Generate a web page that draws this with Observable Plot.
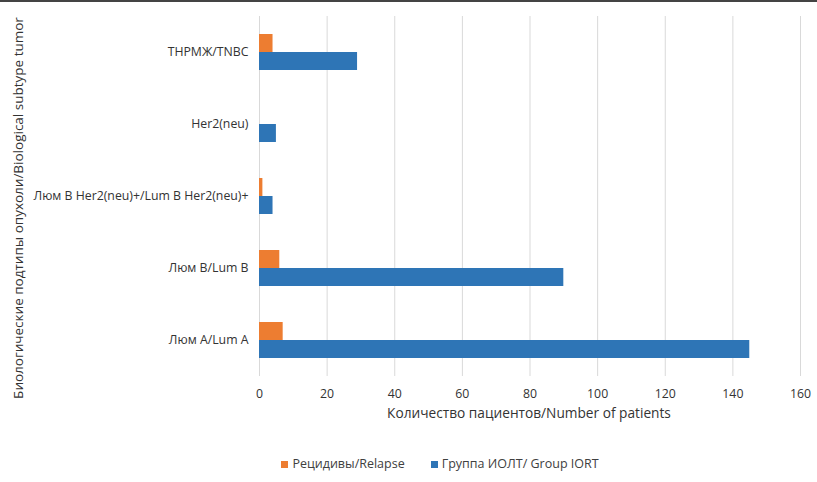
<!DOCTYPE html>
<html><head><meta charset="utf-8">
<script src="https://cdn.jsdelivr.net/npm/d3@7"></script>
<script src="https://cdn.jsdelivr.net/npm/@observablehq/plot@0.6"></script>
<style>
body{margin:0;background:#fff;font-family:"Open Sans",sans-serif;}
#wrap{position:relative;width:817px;height:482px;overflow:hidden;}
#topline{position:absolute;left:0;top:0;width:817px;height:2px;background:#444;}
#legend{position:absolute;top:455px;left:0;width:880px;text-align:center;font-size:12.5px;color:#404040;}
#legend span.item{display:inline-block;margin:0 13px;}
#legend span.sw{display:inline-block;width:7px;height:7px;margin-right:4px;vertical-align:0px;}
</style></head>
<body><div id="wrap"><div id="chart"></div><div id="topline"></div><div id="legend"></div></div>
<script>
const categories = ["ТНРМЖ/TNBC","Her2(neu)","Люм B Her2(neu)+/Lum B Her2(neu)+","Люм B/Lum B","Люм A/Lum A"];
const seriesNames = ["Рецидивы/Relapse","Группа ИОЛТ/ Group IORT"];
const relapse = [4, 0, 1, 6, 7];
const iort = [29, 5, 4, 90, 145];
const xTicks = [0,20,40,60,80,100,120,140,160];
const colors = ["#ED7D31","#2E75B6"];

const data = [];
categories.forEach((c,i)=>{
  data.push({cat:c, series:seriesNames[0], value:relapse[i]});
  data.push({cat:c, series:seriesNames[1], value:iort[i]});
});

const chart = Plot.plot({
  width: 817,
  height: 440,
  marginLeft: 259,
  marginRight: 17,
  marginTop: 15,
  marginBottom: 64,
  style: {fontFamily: '"Open Sans", sans-serif', fontSize: "12.3px", color: "#333", background: "#fff"},
  x: {domain: [0,160], ticks: xTicks, label: null},
  y: {domain: seriesNames, paddingInner: 0, paddingOuter: 0.95, axis: null},
  fy: {domain: categories, padding: 0, label: null},
  color: {domain: seriesNames, range: colors},
  marks: [
    Plot.gridX(xTicks, {stroke: "#d9d9d9", strokeOpacity: 1, strokeWidth: 1}),
    Plot.barX(data, {fy: "cat", y: "series", x: "value", fill: "series", inset: 0}),
    Plot.axisX({ticks: xTicks, tickSize: 0, tickPadding: 13, fontSize: 12.3, fill: "#333", label: null}),
    Plot.axisFy({anchor: "left", tickSize: 0, tickPadding: 11, fontSize: 12.3, fill: "#333", label: null})
  ]
});
document.getElementById("chart").appendChild(chart);

// axis titles
const svg = d3.select(chart);
svg.append("text").attr("x", 529).attr("y", 418).attr("text-anchor","middle")
  .attr("font-size","13.7px").attr("fill","#333").text("Количество пациентов/Number of patients");
svg.append("text").attr("transform","translate(23,208) rotate(-90)").attr("text-anchor","middle")
  .attr("font-size","13.5px").attr("fill","#333").text("Биологические подтипы опухоли/Biological subtype tumor");

const leg = d3.select("#legend");
seriesNames.forEach((s,i)=>{
  const it = leg.append("span").attr("class","item");
  it.append("span").attr("class","sw").style("background", colors[i]);
  it.append("span").text(s);
});
</script></body></html>
